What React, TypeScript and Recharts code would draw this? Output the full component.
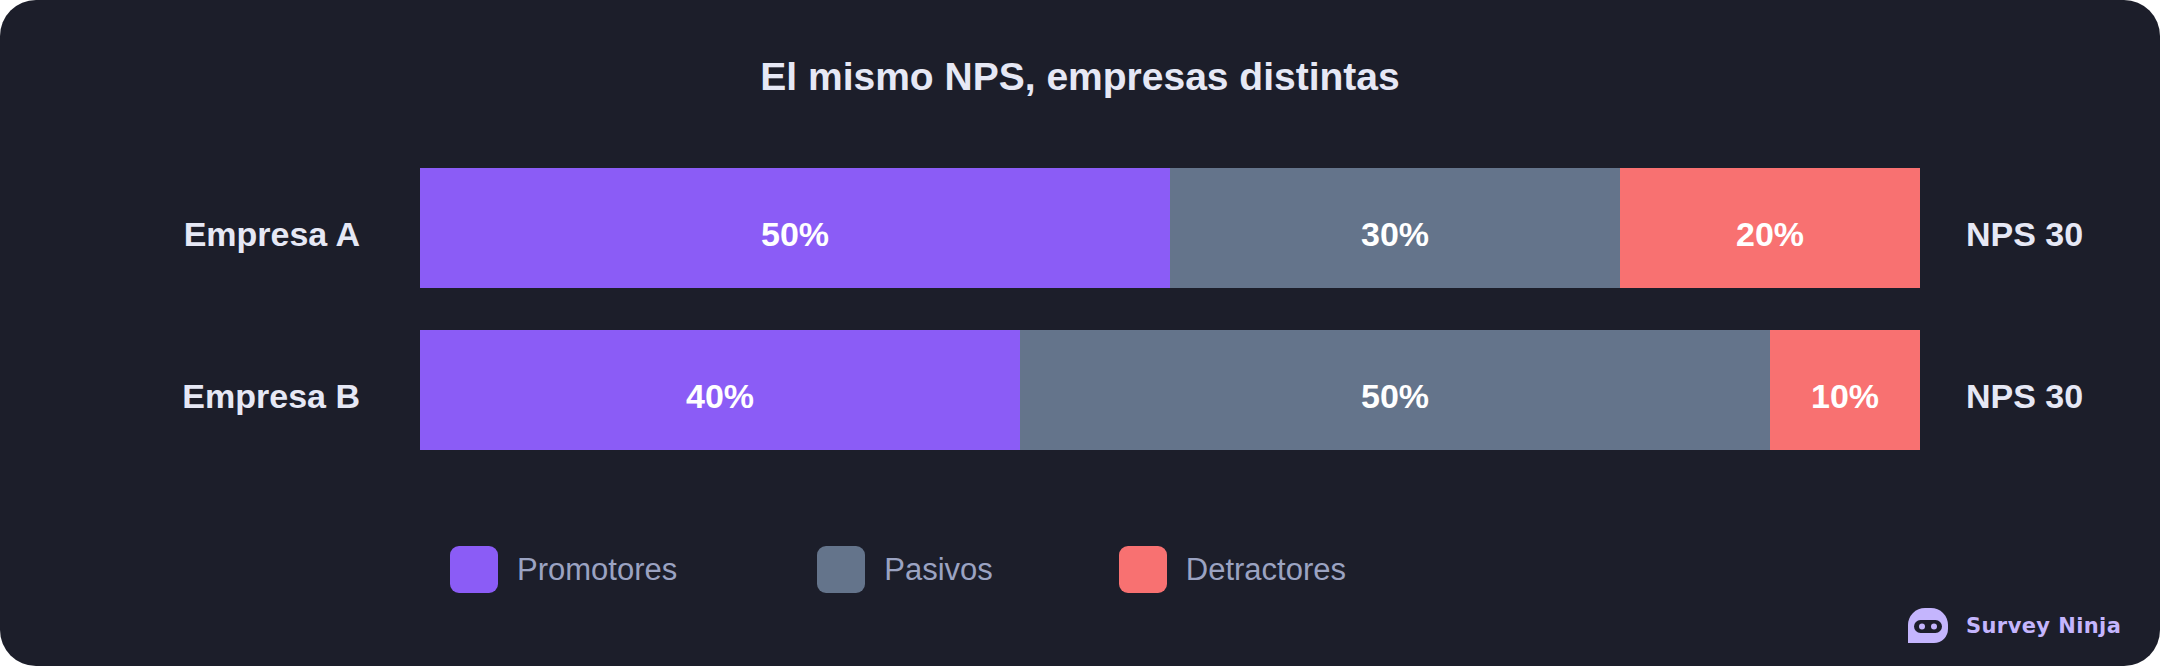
import { Bar, BarChart, LabelList, Legend, XAxis, YAxis } from "recharts";

const companies = ["Empresa A", "Empresa B"];
const promotores = [50, 40];
const pasivos = [30, 50];
const detractores = [20, 10];
const npsScores = [30, 30];

const seriesNames = ["Promotores", "Pasivos", "Detractores"];
const seriesKeys = ["promotores", "pasivos", "detractores"];
const seriesColors = ["#8b5cf6", "#64748b", "#f87171"];

const data = companies.map((name, i) => ({
  name,
  promotores: promotores[i],
  pasivos: pasivos[i],
  detractores: detractores[i],
  nps: npsScores[i],
}));

const FONT = '"Liberation Sans", Arial, Helvetica, sans-serif';
const CARD_BG = "#1c1e2a";
const TEXT = "#e6e8f5";
const LEGEND_GAPS = [140, 126, 0];

function ValueLabel(props: any) {
  const { x, y, width, height, value } = props;
  return (
    <text
      x={x + width / 2}
      y={y + height / 2 + 18}
      textAnchor="middle"
      fill="#ffffff"
      fontFamily={FONT}
      fontWeight={700}
      fontSize={34}
    >
      {`${value}%`}
    </text>
  );
}

function NpsLabel(props: any) {
  const { x, y, width, height, value } = props;
  return (
    <text
      x={x + width + 46}
      y={y + height / 2 + 18}
      textAnchor="start"
      fill={TEXT}
      fontFamily={FONT}
      fontWeight={700}
      fontSize={34}
    >
      {`NPS ${value}`}
    </text>
  );
}

function CompanyTick(props: any) {
  const { x, y, payload } = props;
  return (
    <text x={x} y={y + 18} textAnchor="end" fill={TEXT} fontFamily={FONT} fontWeight={700} fontSize={34}>
      {payload.value}
    </text>
  );
}

function LegendContent() {
  return (
    <div style={{ display: "flex", alignItems: "center", fontFamily: FONT }}>
      {seriesNames.map((name, i) => (
        <div key={name} style={{ display: "flex", alignItems: "center", gap: 19, marginRight: LEGEND_GAPS[i] }}>
          <div style={{ width: 48, height: 47, borderRadius: 9, background: seriesColors[i] }} />
          <span style={{ fontSize: 31, color: "#9ba3c2", lineHeight: "47px", whiteSpace: "nowrap" }}>{name}</span>
        </div>
      ))}
    </div>
  );
}

export default function App() {
  return (
    <div style={{ position: "absolute", left: 0, top: 0, width: 2160, height: 666, background: "#ffffff" }}>
      <div
        style={{
          position: "relative",
          width: 2160,
          height: 666,
          background: CARD_BG,
          borderRadius: 36,
          overflow: "hidden",
        }}
      >
        <div
          style={{
            position: "absolute",
            left: 0,
            top: 57,
            width: 2160,
            textAlign: "center",
            fontFamily: FONT,
            fontWeight: 700,
            fontSize: 39,
            lineHeight: "39px",
            color: TEXT,
          }}
        >
          El mismo NPS, empresas distintas
        </div>

        <div style={{ position: "absolute", left: 0, top: 0 }}>
          <BarChart
            width={2160}
            height={666}
            data={data}
            layout="vertical"
            margin={{ top: 147, right: 240, bottom: 195, left: 0 }}
          >
            <XAxis type="number" domain={[0, 100]} hide />
            <YAxis
              type="category"
              dataKey="name"
              width={420}
              axisLine={false}
              tickLine={false}
              tickSize={0}
              tickMargin={60}
              tick={<CompanyTick />}
            />
            <Legend
              layout="horizontal"
              verticalAlign="middle"
              align="center"
              content={<LegendContent />}
              wrapperStyle={{ left: 450, top: 546, width: "auto", height: 47 }}
            />
            {seriesKeys.map((key, i) => (
              <Bar
                key={key}
                dataKey={key}
                name={seriesNames[i]}
                stackId="nps"
                fill={seriesColors[i]}
                barSize={120}
                isAnimationActive={false}
              >
                <LabelList dataKey={key} content={<ValueLabel />} />
                {key === "detractores" && <LabelList dataKey="nps" content={<NpsLabel />} />}
              </Bar>
            ))}
          </BarChart>
        </div>

        <div style={{ position: "absolute", left: 1908, top: 608, display: "flex", alignItems: "center" }}>
          <svg width={40} height={35} viewBox="0 0 40 35">
            <path d="M0,35 L0,17 A17,17 0 0 1 17,0 L23,0 A17,17 0 0 1 40,17 L40,21 A14,14 0 0 1 26,35 Z" fill="#c4b5fd" />
            <rect x={6} y={12} width={28} height={13} rx={6.5} fill={CARD_BG} />
            <circle cx={14} cy={18.5} r={3} fill="#c4b5fd" />
            <circle cx={26} cy={18.5} r={3} fill="#c4b5fd" />
          </svg>
        </div>
        <div
          style={{
            position: "absolute",
            left: 1966,
            top: 613,
            fontFamily: '"DejaVu Sans", sans-serif',
            fontWeight: 700,
            fontSize: 21,
            lineHeight: "27px",
            color: "#c4b5fd",
            letterSpacing: 0.4,
          }}
        >
          Survey Ninja
        </div>
      </div>
    </div>
  );
}
